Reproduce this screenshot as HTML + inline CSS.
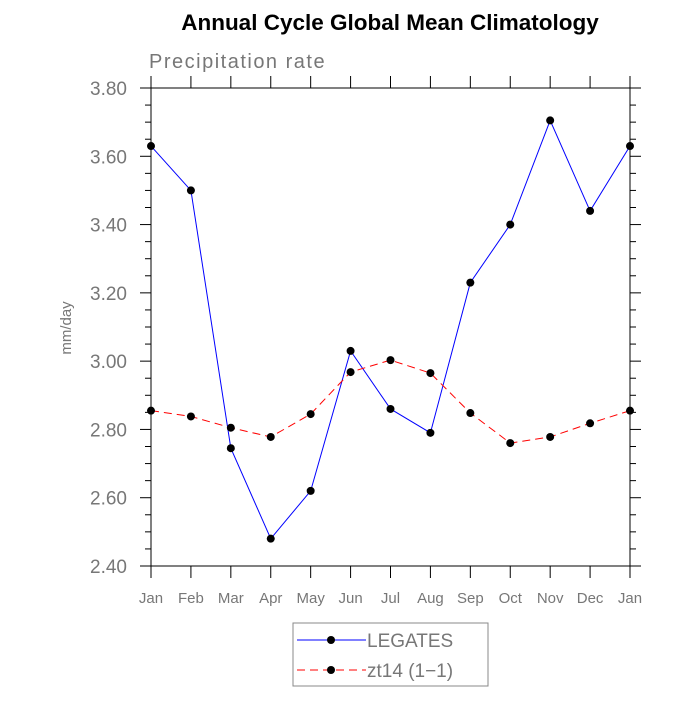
<!DOCTYPE html>
<html><head><meta charset="utf-8"><style>
body{margin:0;background:#fff}
svg text{font-family:"Liberation Sans",sans-serif}
</style></head><body>
<svg id="c" width="700" height="700" xmlns="http://www.w3.org/2000/svg">
<text x="390" y="30" font-size="22.5" font-weight="bold" text-anchor="middle" fill="#000">Annual Cycle Global Mean Climatology</text>
<text x="149" y="68" font-size="20" fill="#777" letter-spacing="1.5">Precipitation rate</text>
<text x="0" y="0" font-size="15" fill="#777" transform="translate(71,328) rotate(-90)" text-anchor="middle">mm/day</text>
<g id="ax"></g>
<g id="series"></g>
<rect x="293" y="623" width="195" height="63" fill="none" stroke="#888" stroke-width="1"/>
<g>
<line x1="297" y1="640" x2="366" y2="640" stroke="#0000ff" stroke-width="1"/>
<circle cx="331" cy="640" r="4" fill="#000"/>
<text x="367" y="647" font-size="19" fill="#777">LEGATES</text></g>
<g>
<line x1="297" y1="670" x2="366" y2="670" stroke="#ff0000" stroke-width="1" stroke-dasharray="8,5"/>
<circle cx="331" cy="670" r="4" fill="#000"/>
<text x="367" y="677" font-size="19" fill="#777">zt14 (1−1)</text></g>
</svg>
<script>
const months=["Jan","Feb","Mar","Apr","May","Jun","Jul","Aug","Sep","Oct","Nov","Dec","Jan"];
const legates=[3.63,3.50,2.745,2.48,2.62,3.03,2.86,2.79,3.23,3.40,3.705,3.44,3.63];
const zt14=[2.855,2.838,2.805,2.778,2.845,2.968,3.003,2.965,2.848,2.76,2.778,2.818,2.855];
const yTicks=[2.40,2.60,2.80,3.00,3.20,3.40,3.60,3.80];
const X0=151,X1=630,Y0=566,Y1=88,YMIN=2.4,YMAX=3.8;
const xs=i=>X0+(X1-X0)*i/(months.length-1);
const ys=v=>Y0-(v-YMIN)/(YMAX-YMIN)*(Y0-Y1);
const NS="http://www.w3.org/2000/svg";
function mk(t,a,p){const e=document.createElementNS(NS,t);for(const k in a)e.setAttribute(k,a[k]);p.appendChild(e);return e;}
const ax=document.getElementById('ax');
const fr=mk('rect',{x:X0,y:Y1,width:X1-X0,height:Y0-Y1,fill:'none',stroke:'#000','stroke-width':1},ax);


months.forEach((m,i)=>{const x=xs(i);
mk('line',{x1:x,y1:Y0,x2:x,y2:Y0+12,stroke:'#000'},ax);
mk('line',{x1:x,y1:Y1,x2:x,y2:Y1-12,stroke:'#000'},ax);
const t=mk('text',{x:x,y:603,'font-size':15,'text-anchor':'middle',fill:'#777'},ax);t.textContent=m;

});
yTicks.forEach((v,i)=>{const y=ys(v);
mk('line',{x1:X0-11,y1:y,x2:X0,y2:y,stroke:'#000'},ax);
mk('line',{x1:X1,y1:y,x2:X1+11,y2:y,stroke:'#000'},ax);
if(i<yTicks.length-1)for(let k=1;k<4;k++){const yy=ys(v+0.05*k);
mk('line',{x1:X0-6,y1:yy,x2:X0,y2:yy,stroke:'#000'},ax);
mk('line',{x1:X1,y1:yy,x2:X1+6,y2:yy,stroke:'#000'},ax);}
const t=mk('text',{x:127,y:y+7,'font-size':19,'text-anchor':'end',fill:'#777'},ax);t.textContent=v.toFixed(2);

});
const sg=document.getElementById('series');
function draw(d,col,dash,name){const g=mk('g',{},sg);


mk('polyline',{points:d.map((v,i)=>xs(i)+','+ys(v)).join(' '),fill:'none',stroke:col,'stroke-width':1,'stroke-dasharray':dash},g);
d.forEach((v,i)=>{const c=mk('circle',{cx:xs(i),cy:ys(v),r:4,fill:'#000'},g);

});}
draw(legates,'#0000ff','none','series-legates');
draw(zt14,'#ff0000','8,5','series-zt14');
</script>
</body></html>
